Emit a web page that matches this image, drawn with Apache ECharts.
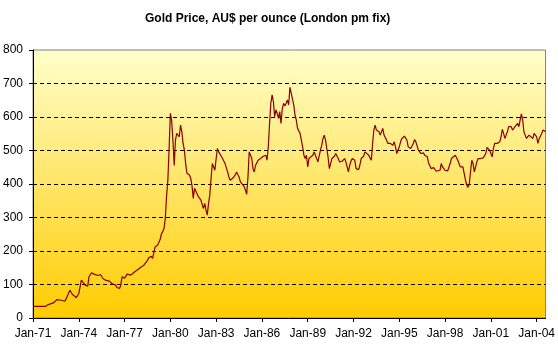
<!DOCTYPE html>
<html>
<head>
<meta charset="utf-8">
<script src="https://cdn.jsdelivr.net/npm/echarts@6/dist/echarts.min.js"></script>
<style>
  html, body { margin: 0; padding: 0; background: #ffffff; }
  #chart { width: 558px; height: 346px; }
</style>
</head>
<body>
<div id="chart"></div>
<script>
// Monthly observations: month counted from Jan 1971 (0 = Jan-71), price in AU$ per ounce
const month = [
  0, 10, 12, 16, 19, 22, 25, 26, 29, 31,
  34, 36, 38, 39, 41, 43, 44, 46, 48, 51,
  53, 55, 57, 60, 62, 65, 66, 68, 69, 70,
  72, 74, 77, 79, 82, 85, 87, 90, 91, 93,
  94, 96, 98, 100, 101, 102, 103, 104, 105, 106,
  107, 108, 109, 110, 111, 112, 113, 114, 115, 116,
  117, 118, 119, 120, 121, 123, 124, 125, 126, 127,
  128, 130, 131, 132, 134, 135, 136, 137, 138, 139,
  140, 141, 142, 143, 144, 145, 146, 147, 149, 150,
  151, 153, 154, 155, 157, 158, 159, 160, 162, 163,
  164, 166, 167, 168, 169, 170, 171, 172, 173, 174,
  175, 176, 177, 179, 181, 183, 184, 185, 186, 187,
  188, 189, 190, 191, 192, 193, 194, 195, 196, 197,
  198, 199, 200, 201, 202, 203, 204, 205, 206, 207,
  208, 209, 210, 211, 212, 213, 214, 215, 216, 217,
  218, 220, 221, 222, 223, 224, 225, 226, 227, 228,
  229, 230, 231, 232, 233, 234, 235, 236, 237, 238,
  239, 240, 241, 242, 243, 245, 246, 247, 248, 249,
  250, 251, 253, 254, 256, 257, 258, 260, 261, 262,
  264, 265, 266, 267, 268, 269, 270, 272, 273, 274,
  275, 276, 277, 278, 279, 280, 281, 282, 283, 284,
  285, 286, 287, 288, 289, 290, 292, 293, 294, 295,
  296, 297, 299, 300, 301, 303, 304, 305, 307, 308,
  310, 311, 312, 313, 314, 315, 316, 317, 318, 320,
  321, 322, 324, 325, 326, 328, 329, 330, 332, 333,
  334, 335, 336, 337, 338, 339, 340, 341, 342, 343,
  344, 345, 346, 347, 348, 349, 350, 351, 352, 354,
  355, 356, 357, 359, 360, 361, 362, 363, 364, 365,
  367, 368, 369, 370, 371, 372, 373, 374, 375, 376,
  377, 378, 379, 380, 381, 382, 383, 384, 385, 386,
  387, 388, 389, 390, 391, 393, 394, 395, 396, 397,
  398, 399, 400, 401, 402, 403
];
const price = [
  35, 35, 40, 45, 55, 53, 50, 57, 83, 70,
  61, 73, 113, 115, 98, 95, 123, 135, 131, 127,
  130, 118, 113, 110, 103, 98, 91, 88, 98, 123,
  119, 131, 128, 135, 143, 152, 157, 172, 180, 184,
  178, 212, 218, 235, 252, 258, 267, 297, 362, 410,
  505, 611, 590, 531, 455, 531, 551, 556, 541, 576,
  556, 521, 501, 461, 432, 427, 417, 395, 357, 387,
  384, 362, 357, 352, 327, 342, 322, 307, 342, 367,
  417, 461, 451, 441, 476, 506, 496, 491, 476, 471,
  461, 436, 421, 411, 417, 421, 427, 436, 421, 407,
  402, 392, 382, 369, 420, 496, 491, 476, 445, 436,
  456, 463, 471, 476, 483, 486, 471, 511, 581, 641,
  666, 646, 601, 621, 611, 596, 616, 581, 625, 641,
  633, 641, 651, 636, 689, 671, 666, 636, 606, 591,
  566, 561, 551, 531, 511, 486, 476, 486, 451, 476,
  471, 486, 496, 486, 491, 466, 471, 501, 516, 536,
  546, 531, 506, 480, 446, 461, 476, 471, 483, 491,
  489, 476, 466, 461, 468, 476, 466, 451, 436, 456,
  468, 476, 471, 446, 443, 456, 476, 483, 496, 491,
  486, 478, 471, 520, 561, 576, 561, 556, 546, 556,
  566, 546, 546, 531, 521, 526, 521, 516, 516, 526,
  511, 491, 496, 511, 526, 536, 543, 546, 531, 511,
  506, 506, 521, 533, 526, 501, 496, 491, 493, 486,
  481, 463, 461, 446, 441, 449, 451, 438, 434, 441,
  461, 451, 441, 438, 439, 461, 476, 481, 486, 481,
  471, 466, 451, 446, 451, 432, 412, 397, 390, 400,
  436, 471, 461, 436, 432, 466, 476, 471, 476, 478,
  473, 491, 509, 501, 491, 481, 506, 521, 523, 521,
  526, 541, 563, 551, 536, 546, 556, 571, 566, 571,
  561, 566, 571, 576, 581, 571, 591, 609, 591, 556,
  546, 536, 531, 546, 541, 536, 551, 546, 541, 521,
  536, 543, 551, 561, 559, 556
];

// Date axis labels every three years, and the months they sit on
const tickLabels = ['Jan-71', 'Jan-74', 'Jan-77', 'Jan-80', 'Jan-83', 'Jan-86',
                    'Jan-89', 'Jan-92', 'Jan-95', 'Jan-98', 'Jan-01', 'Jan-04'];
const tickMonths = [0, 36, 72, 108, 144, 180, 216, 252, 288, 324, 360, 396];

const FONT = "'Liberation Sans', Arial, sans-serif";
const chart = echarts.init(document.getElementById('chart'), null, { renderer: 'canvas' });

chart.setOption({
  animation: false,
  title: {
    text: 'Gold Price, AU$ per ounce (London pm fix)',
    left: 140,
    top: 8,
    textStyle: { fontFamily: FONT, fontSize: 12, fontWeight: 'bold', color: '#000000' }
  },
  grid: {
    left: 33, right: 10, top: 50, bottom: 28,
    show: true,
    borderColor: '#808080',
    borderWidth: 1,
    backgroundColor: new echarts.graphic.LinearGradient(0, 0, 0, 1, [
      { offset: 0, color: '#FFFFCC' },
      { offset: 1, color: '#FFCC00' }
    ])
  },
  xAxis: {
    type: 'value',
    min: 0,
    max: 403,
    axisLine: { show: true, lineStyle: { color: '#000000', width: 1 } },
    axisTick: { show: true, customValues: tickMonths, length: 4, lineStyle: { color: '#000000' } },
    axisLabel: {
      customValues: tickMonths,
      formatter: v => tickLabels[tickMonths.indexOf(v)] || '',
      margin: 10,
      fontFamily: FONT, fontSize: 12, color: '#000000'
    },
    splitLine: { show: false }
  },
  yAxis: {
    type: 'value',
    min: 0,
    max: 800,
    interval: 100,
    axisLine: { show: true, lineStyle: { color: '#000000', width: 1 } },
    axisTick: { show: true, length: 4, lineStyle: { color: '#000000' } },
    axisLabel: { margin: 10, fontFamily: FONT, fontSize: 12, color: '#000000' },
    splitLine: {
      show: true,
      showMinLine: false,
      showMaxLine: false,
      lineStyle: { color: '#000000', width: 1, type: [4, 3] }
    }
  },
  series: [{
    type: 'line',
    data: month.map((m, i) => [m, price[i]]),
    showSymbol: false,
    lineStyle: { color: '#8B0000', width: 1.2 },
    silent: true
  }]
});
</script>
</body>
</html>
